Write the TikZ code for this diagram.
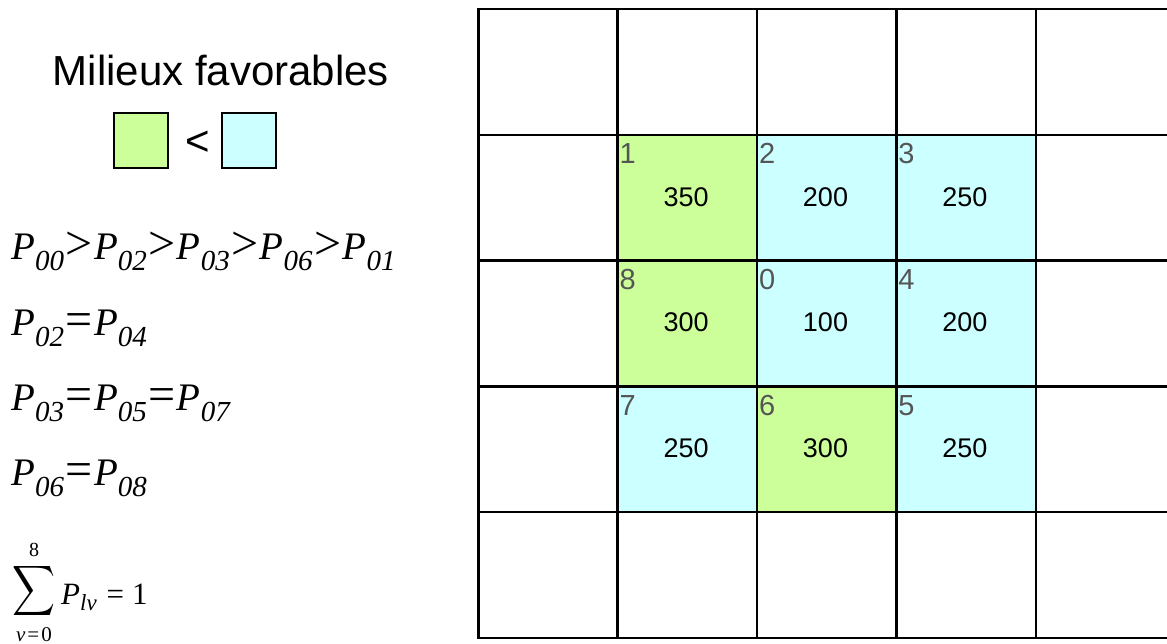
\documentclass[tikz,border=0pt]{standalone}
\usepackage{fontspec}
\usepackage{graphicx}
\newfontfamily\sansf{Liberation Sans}
\newfontfamily\eqf{Liberation Serif}
\definecolor{cgreen}{HTML}{CCFF99}
\definecolor{ccyan}{HTML}{CCFFFF}
\definecolor{lblgray}{HTML}{555555}
\newcommand\Pv[1]{{\fontsize{39}{39}\selectfont\itshape P}\kern0pt\raisebox{-11pt}{\fontsize{29}{29}\selectfont\itshape #1}}
\newcommand\opgt{\kern1.5pt{\fontsize{48}{48}\selectfont\upshape >}\kern1.5pt}
\newcommand\opeq{\kern1.5pt{\fontsize{48}{48}\selectfont\upshape =}\kern1.5pt}
\begin{document}
\begin{tikzpicture}[x=1pt,y=-1pt,
  cell/.style={draw=black,line width=2.5pt,rectangle,inner sep=0pt,anchor=north west,minimum width=139.4pt,minimum height=125.7pt},
  lbl/.style={anchor=base west,inner sep=0pt,text=lblgray,font=\sansf\fontsize{29}{29}\selectfont},
  val/.style={anchor=base,inner sep=0pt,font=\sansf\fontsize{27}{27}\selectfont},
  eq/.style={anchor=base west,inner sep=0pt,font=\eqf},
  legsq/.style={draw=black,line width=1.5pt,rectangle,inner sep=0pt,minimum width=54pt,minimum height=55pt}]
\useasboundingbox (0,0) rectangle (1167,644);
\clip (0,0) rectangle (1167,644);
% grid of cells
\foreach \r in {0,...,4}{
  \foreach \c in {0,...,4}{
    \node[cell,fill=white] (c\r\c) at ({477+139.4*\c},{8+125.7*\r}) {};
  }
}
\foreach \r/\c/\col in {1/1/cgreen,1/2/ccyan,1/3/ccyan,2/1/cgreen,2/2/ccyan,2/3/ccyan,3/1/ccyan,3/2/cgreen,3/3/ccyan}{
  \node[cell,fill=\col] (f\r\c) at ({477+139.4*\c},{8+125.7*\r}) {};
}
% labels and values
\foreach \r/\c/\l/\v in {1/1/1/350,1/2/2/200,1/3/3/250,2/1/8/300,2/2/0/100,2/3/4/200,3/1/7/250,3/2/6/300,3/3/5/250}{
  \node[lbl] (l\r\c) at ({477+139.4*\c+3},{8+125.7*\r+30}) {\l};
  \node[val] (v\r\c) at ({477+139.4*\c+69.7},{8+125.7*\r+72.5}) {\v};
}
% legend
\node[inner sep=0pt,font=\sansf\fontsize{42}{42}\selectfont] (title) at (221,70) {Milieux favorables};
\node[legsq,fill=cgreen] (lg) at (141,140.5) {};
\node[legsq,fill=ccyan] (lc) at (249,140.5) {};
\node[inner sep=0pt,font=\sansf\fontsize{42}{42}\selectfont] (lt) at (198,143) {<};
% equations
\node[eq] (e1) at (11,260) {\Pv{00}\opgt\Pv{02}\opgt\Pv{03}\opgt\Pv{06}\opgt\Pv{01}};
\node[eq] (e2) at (11,335) {\Pv{02}\opeq\Pv{04}};
\node[eq] (e3) at (11,410) {\Pv{03}\opeq\Pv{05}\opeq\Pv{07}};
\node[eq] (e4) at (11,485) {\Pv{06}\opeq\Pv{08}};
% sum
\node[inner sep=0pt] (sig) at (34,590.5) {\resizebox*{43pt}{56pt}{$\displaystyle\sum$}};
\node[anchor=base,inner sep=0pt,font=\eqf\fontsize{20}{20}\selectfont] (sup) at (34,556) {8};
\node[anchor=base,inner sep=0pt,font=\eqf\fontsize{21}{21}\selectfont] (sub) at (34,641) {\textit{v}\kern2pt=\kern2pt0};
\node[anchor=base west,inner sep=0pt,font=\eqf\fontsize{31}{31}\selectfont] (plv) at (61,604) {\textit{P}\raisebox{-6pt}{\fontsize{23}{23}\selectfont\textit{lv}}\kern10pt=\kern8pt1};
\end{tikzpicture}
\end{document}
